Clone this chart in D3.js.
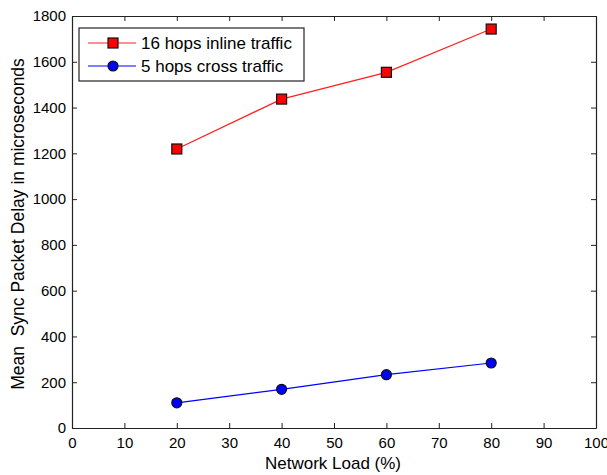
<!DOCTYPE html>
<html>
<head>
<meta charset="utf-8">
<script src="https://cdn.jsdelivr.net/npm/d3@7"></script>
<style>
  body { margin: 0; background: #fff; }
  text { font-family: "Liberation Sans", Arial, sans-serif; fill: #000; }
</style>
</head>
<body>
<svg id="chart" width="607" height="475"></svg>
<script>
"use strict";

// network load in percent
let loads = [20, 40, 60, 80];
// mean sync packet delay (microseconds)
let inlineDelay = [1219, 1437, 1554, 1743];
let crossDelay = [110, 169, 233, 284];
let seriesNames = ["16 hops inline traffic", "5 hops cross traffic"];
let xTicks = [0, 10, 20, 30, 40, 50, 60, 70, 80, 90, 100];
let yTicks = [0, 200, 400, 600, 800, 1000, 1200, 1400, 1600, 1800];

let svg = d3.select("#chart");
let plotLeft = 72, plotRight = 596, plotTop = 16, plotBottom = 428;

let x = d3.scaleLinear().domain([0, 100]).range([plotLeft, plotRight]);
let y = d3.scaleLinear().domain([0, 1800]).range([plotBottom, plotTop]);

let tick = 5;

// axes (ticks pointing inward, mirrored on top/right)
let axisB = d3.axisBottom(x).tickValues(xTicks).tickSizeInner(-tick).tickSizeOuter(0).tickPadding(9).tickFormat(d3.format("d"));
let axisT = d3.axisTop(x).tickValues(xTicks).tickSizeInner(-tick).tickSizeOuter(0).tickFormat("");
let axisL = d3.axisLeft(y).tickValues(yTicks).tickSizeInner(-tick).tickSizeOuter(0).tickPadding(6).tickFormat(d3.format("d"));
let axisR = d3.axisRight(y).tickValues(yTicks).tickSizeInner(-tick).tickSizeOuter(0).tickFormat("");

function styleAxis(g) {
  g.selectAll("path").attr("stroke", "#222").attr("stroke-width", 1.2);
  g.selectAll("line").attr("stroke", "#222");
  g.selectAll("text").attr("font-size", 15).attr("font-family", "Liberation Sans, Arial, sans-serif").attr("fill", "#000");
}

svg.append("g").attr("transform", `translate(0,${plotBottom})`).call(axisB).call(styleAxis);
svg.append("g").attr("transform", `translate(0,${plotTop})`).call(axisT).call(styleAxis);
svg.append("g").attr("transform", `translate(${plotLeft},0)`).call(axisL).call(styleAxis);
svg.append("g").attr("transform", `translate(${plotRight},0)`).call(axisR).call(styleAxis);

let line = d3.line().x(d => x(d[0])).y(d => y(d[1]));
let inlinePts = loads.map((l, i) => [l, inlineDelay[i]]);
let crossPts = loads.map((l, i) => [l, crossDelay[i]]);

svg.append("path").datum(inlinePts).attr("d", line)
  .attr("fill", "none").attr("stroke", "#ff2020").attr("stroke-width", 1.2);
svg.append("path").datum(crossPts).attr("d", line)
  .attr("fill", "none").attr("stroke", "#0000ff").attr("stroke-width", 1.2);

let sq = 10;
svg.selectAll("rect.inline").data(inlinePts).enter().append("rect")
  .attr("class", "inline")
  .attr("x", d => x(d[0]) - sq / 2).attr("y", d => y(d[1]) - sq / 2)
  .attr("width", sq).attr("height", sq)
  .attr("fill", "#ff0000").attr("stroke", "#111").attr("stroke-width", 1.2);

svg.selectAll("circle.cross").data(crossPts).enter().append("circle")
  .attr("class", "cross")
  .attr("cx", d => x(d[0])).attr("cy", d => y(d[1])).attr("r", 5)
  .attr("fill", "#0000ff").attr("stroke", "#111").attr("stroke-width", 1.2);

// legend
let lg = svg.append("g");
lg.append("rect").attr("x", 79).attr("y", 28).attr("width", 225).attr("height", 53)
  .attr("fill", "#fff").attr("stroke", "#222").attr("stroke-width", 1.2);
let rows = [43, 66];
lg.append("line").attr("x1", 88).attr("x2", 136).attr("y1", rows[0]).attr("y2", rows[0])
  .attr("stroke", "#ff2020").attr("stroke-width", 1.2);
lg.append("rect").attr("x", 113 - sq / 2).attr("y", rows[0] - sq / 2).attr("width", sq).attr("height", sq)
  .attr("fill", "#ff0000").attr("stroke", "#111").attr("stroke-width", 1.2);
lg.append("line").attr("x1", 88).attr("x2", 136).attr("y1", rows[1]).attr("y2", rows[1])
  .attr("stroke", "#0000ff").attr("stroke-width", 1.2);
lg.append("circle").attr("cx", 113).attr("cy", rows[1]).attr("r", 5)
  .attr("fill", "#0000ff").attr("stroke", "#111").attr("stroke-width", 1.2);
seriesNames.forEach((n, i) => {
  lg.append("text").attr("x", 141).attr("y", rows[i]).attr("dy", "0.36em")
    .attr("font-size", 17).text(n);
});

// axis labels
svg.append("text").attr("x", 333).attr("y", 469)
  .attr("text-anchor", "middle").attr("font-size", 17).text("Network Load (%)");
svg.append("text").attr("transform", "translate(24,224) rotate(-90)")
  .attr("text-anchor", "middle").attr("font-size", 17.5).style("white-space", "pre")
  .text("Mean  Sync Packet Delay in microseconds");
</script>
</body>
</html>
